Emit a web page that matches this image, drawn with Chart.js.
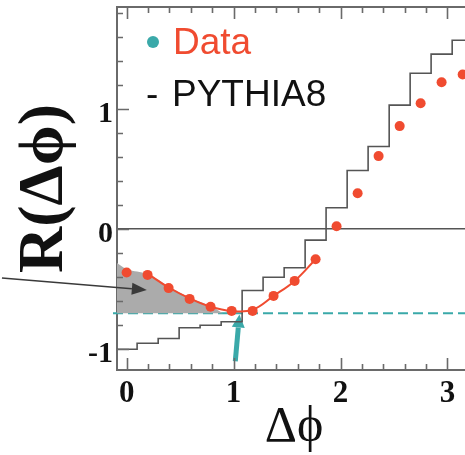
<!DOCTYPE html>
<html><head><meta charset="utf-8">
<script src="https://cdn.jsdelivr.net/npm/chart.js@4.4.1/dist/chart.umd.min.js"></script>
<style>html,body{margin:0;padding:0;overflow:hidden;background:#fff}#wrap{width:476px;height:455px}</style>
</head><body><div id="wrap"><canvas id="c" width="476" height="455"></canvas></div>
<script>
// ---- data ----
const binCenters   = [0, 0.196, 0.393, 0.589, 0.785, 0.982, 1.178, 1.374, 1.571, 1.767, 1.963, 2.160, 2.356, 2.553, 2.749, 2.945, 3.142];
const dataValues   = [-0.36, -0.38, -0.49, -0.58, -0.645, -0.68, -0.68, -0.555, -0.43, -0.25, 0.025, 0.30, 0.61, 0.86, 1.05, 1.225, 1.29];
const pythiaValues = [-1.00, -0.95, -0.91, -0.82, -0.80, -0.77, -0.51, -0.40, -0.32, -0.09, 0.18, 0.49, 0.69, 1.035, 1.30, 1.46, 1.575];
const fitX         = [0.196, 0.393, 0.589, 0.785, 0.982, 1.178, 1.374, 1.571, 1.767];
const fitValues    = [-0.37, -0.485, -0.575, -0.645, -0.68, -0.67, -0.555, -0.43, -0.25];
const shadeX       = [-0.09, 0, 0.196, 0.393, 0.589, 0.785, 0.90];
const shadeValues  = [-0.28, -0.33, -0.375, -0.475, -0.57, -0.64, -0.70];
const minimumLevel = -0.70;
const xTickValues  = [0, 1, 2, 3];
const xTickLabels  = ['0', '1', '2', '3'];
const yTickValues  = [-1, 0, 1];
const yTickLabels  = ['-1', '0', '1'];
const tealArrowX   = [1.016, 1.055];
const tealArrowY   = [-1.10, -0.71];
const blackArrowX  = [-1.166, 0.189];
const blackArrowY  = [-0.406, -0.506];
const legendLabels = ['Data', 'PYTHIA8'];

// ---- styles ----
const RED = '#f04b30';
const TEAL = '#3aa9a9';
const FRAME = '#6a6a6a';

const binWidth = binCenters[1] - binCenters[0];
const histPoints = binCenters.map((c, i) => ({x: c - binWidth / 2, y: pythiaValues[i]}));
histPoints.push({x: binCenters[binCenters.length - 1] + binWidth / 2, y: pythiaValues[pythiaValues.length - 1]});

function arrow(ctx, x0, y0, x1, y1, width, headLen, headHalf, color) {
  const ang = Math.atan2(y1 - y0, x1 - x0);
  const bx = x1 - headLen * Math.cos(ang), by = y1 - headLen * Math.sin(ang);
  ctx.strokeStyle = color; ctx.fillStyle = color; ctx.lineWidth = width; ctx.lineCap = 'butt';
  ctx.beginPath(); ctx.moveTo(x0, y0); ctx.lineTo(bx, by); ctx.stroke();
  ctx.beginPath();
  ctx.moveTo(x1, y1);
  ctx.lineTo(bx + headHalf * Math.sin(ang), by - headHalf * Math.cos(ang));
  ctx.lineTo(bx - headHalf * Math.sin(ang), by + headHalf * Math.cos(ang));
  ctx.closePath(); ctx.fill();
}

const framePlugin = {
  id: 'frame',
  beforeDatasetsDraw(chart) {
    const {ctx, chartArea: a, scales: {x, y}} = chart;
    ctx.save();
    const yy = y.getPixelForValue(minimumLevel);
    ctx.strokeStyle = TEAL; ctx.lineWidth = 2; ctx.setLineDash([10, 5]);
    ctx.beginPath(); ctx.moveTo(a.left - 4, yy); ctx.lineTo(a.right, yy); ctx.stroke();
    ctx.setLineDash([]);
    arrow(ctx, x.getPixelForValue(tealArrowX[0]), y.getPixelForValue(tealArrowY[0]),
          x.getPixelForValue(tealArrowX[1]), y.getPixelForValue(tealArrowY[1]), 5, 13, 6.5, TEAL);
    ctx.restore();
  },
  afterDatasetsDraw(chart) {
    const {ctx, chartArea: a, scales: {x, y}} = chart;
    ctx.save();
    // black arrow
    arrow(ctx, x.getPixelForValue(blackArrowX[0]), y.getPixelForValue(blackArrowY[0]),
          x.getPixelForValue(blackArrowX[1]), y.getPixelForValue(blackArrowY[1]), 1.6, 15, 6, '#3a3a3a');
    // frame top
    ctx.strokeStyle = FRAME; ctx.lineWidth = 2;
    ctx.beginPath(); ctx.moveTo(a.left, a.top); ctx.lineTo(a.right, a.top); ctx.stroke();
    // inward ticks
    ctx.lineWidth = 1.6;
    ctx.beginPath();
    for (let i = 0; i <= 16; i++) {
      const v = i * 0.2; if (v > x.max) break;
      const px = Math.round(x.getPixelForValue(v)) + 0.5;
      const len = (i % 5 === 0) ? 12 : 6;
      ctx.moveTo(px, a.bottom); ctx.lineTo(px, a.bottom - len);
      ctx.moveTo(px, a.top); ctx.lineTo(px, a.top + len);
    }
    for (let i = -6; i <= 9; i++) {
      const v = i * 0.2; if (v < y.min || v > y.max) continue;
      const py = Math.round(y.getPixelForValue(v)) + 0.5;
      const len = (i % 5 === 0) ? 12 : 6;
      ctx.moveTo(a.left, py); ctx.lineTo(a.left + len, py);
    }
    ctx.stroke();
    // legend
    ctx.fillStyle = TEAL;
    ctx.beginPath(); ctx.arc(153, 42, 6, 0, Math.PI * 2); ctx.fill();
    ctx.font = '37px "Liberation Sans", Arial, sans-serif';
    ctx.textBaseline = 'alphabetic'; ctx.textAlign = 'left';
    ctx.fillStyle = RED; ctx.fillText(legendLabels[0], 173, 54);
    ctx.fillStyle = '#111'; ctx.fillText('-', 146, 106); ctx.fillText(legendLabels[1], 172, 106);
    ctx.restore();
  }
};

new Chart(document.getElementById('c'), {
  type: 'scatter',
  data: {
    datasets: [
      {type: 'line', label: 'fit', data: fitX.map((v, i) => ({x: v, y: fitValues[i]})),
       borderColor: RED, borderWidth: 2, pointRadius: 0, tension: 0.4, fill: false, order: 0},
      {type: 'scatter', label: legendLabels[0], data: binCenters.map((v, i) => ({x: v, y: dataValues[i]})),
       pointRadius: 5, pointBackgroundColor: RED, backgroundColor: RED, borderWidth: 0, pointBorderWidth: 0, order: 1},
      {type: 'line', label: 'shade', data: shadeX.map((v, i) => ({x: v, y: shadeValues[i]})),
       borderWidth: 0, borderColor: 'rgba(0,0,0,0)', pointRadius: 0, tension: 0.4,
       fill: {value: minimumLevel}, backgroundColor: '#ababab', order: 2},
      {type: 'line', label: legendLabels[1], data: histPoints, stepped: 'before',
       borderColor: '#555', borderWidth: 1.6, pointRadius: 0, fill: false, order: 3}
    ]
  },
  options: {
    responsive: false, animation: false, devicePixelRatio: 1,
    layout: {padding: {top: 7, left: 0, right: 0, bottom: 0}},
    plugins: {legend: {display: false}, tooltip: {enabled: false}},
    scales: {
      x: {
        type: 'linear', min: -0.09, max: 3.22, position: 'bottom',
        afterBuildTicks: s => { s.ticks = xTickValues.map(v => ({value: v})); },
        afterFit: s => { s.height = 85; s.paddingLeft = 0; s.paddingRight = 0; },
        grid: {display: false, drawTicks: false},
        border: {display: true, color: FRAME, width: 2},
        ticks: {padding: 5, color: '#111', autoSkip: false, maxRotation: 0,
                font: {family: '"Liberation Serif", serif', size: 31, weight: 'bold'},
                callback: (v, i) => xTickLabels[i]},
        title: {display: true, text: 'Δϕ', color: '#111',
                font: {family: '"Liberation Serif", serif', size: 50, lineHeight: 1},
                padding: {top: 0, bottom: 2}}
      },
      y: {
        type: 'linear', min: -1.1725, max: 1.8525,
        afterBuildTicks: s => { s.ticks = yTickValues.map(v => ({value: v})); },
        afterFit: s => { s.width = 117; s.paddingTop = 0; s.paddingBottom = 0; },
        grid: {display: true, drawTicks: false, lineWidth: 1.6,
               color: c => (c.tick && c.tick.value === 0) ? '#555' : 'rgba(0,0,0,0)'},
        border: {display: true, color: FRAME, width: 2},
        ticks: {padding: 4, labelOffset: 5, color: '#111', autoSkip: false,
                font: {family: '"Liberation Serif", serif', size: 30, weight: 'bold'},
                callback: (v, i) => yTickLabels[i]},
        title: {display: true, text: 'R(Δϕ)', color: '#111',
                font: {family: '"Liberation Serif", serif', size: 64, weight: 'bold', lineHeight: 1.2},
                padding: {top: 7, bottom: 0}}
      }
    }
  },
  plugins: [framePlugin]
});
</script>
</body></html>
